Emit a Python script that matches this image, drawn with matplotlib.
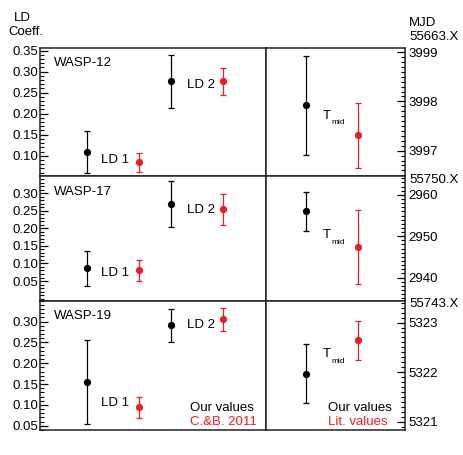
import matplotlib
matplotlib.use("Agg")
import matplotlib.pyplot as plt
from matplotlib.ticker import MultipleLocator

plt.rcParams["font.family"] = ["Liberation Sans", "DejaVu Sans"]
plt.rcParams["font.size"] = 9.5

RED = "#ee1c24"

planets = ["WASP-12", "WASP-17", "WASP-19"]
mjd_base = ["55663.X", "55750.X", "55743.X"]

# limb darkening: our values vs C.&B. 2011
ld1_ours = [0.109, 0.086, 0.155]
ld1_ours_err = [0.050, 0.050, 0.101]
ld1_cb = [0.084, 0.080, 0.094]
ld1_cb_err = [0.022, 0.030, 0.025]
ld2_ours = [0.277, 0.270, 0.291]
ld2_ours_err = [0.063, 0.065, 0.040]
ld2_cb = [0.277, 0.254, 0.305]
ld2_cb_err = [0.032, 0.045, 0.027]

# mid-transit times: our values vs literature
tmid_ours = [3997.92, 2956.0, 5321.97]
tmid_ours_err = [1.00, 4.7, 0.60]
tmid_lit = [3997.31, 2947.4, 5322.64]
tmid_lit_err = [0.66, 8.9, 0.40]

ld_ticks = [
    [0.10, 0.15, 0.20, 0.25, 0.30, 0.35],
    [0.05, 0.10, 0.15, 0.20, 0.25, 0.30],
    [0.05, 0.10, 0.15, 0.20, 0.25, 0.30],
]
ld_ylims = [(0.051, 0.357), (-0.006, 0.348), (0.039, 0.350)]
t_ticks = [[3997, 3998, 3999], [2940, 2950, 2960], [5321, 5322, 5323]]
t_ylims = [(3996.48, 3999.09), (2934.4, 2964.5), (5320.83, 5323.44)]
t_minor = [0.1, 1.0, 0.1]

# label heights (data units) next to the LD pairs
ld1_label_y = [0.089, 0.074, 0.105]
ld2_label_y = [0.268, 0.253, 0.292]
tmid_label_y = [0.446, 0.502, 0.566]

W, H = 463, 455
rows = [(47.7, 176.3), (176.3, 300.7), (300.7, 430.3)]
x0, xmid, x1 = 40, 265.7, 405

fig = plt.figure(figsize=(W / 100, H / 100), dpi=100)

off = 0.31
eb = dict(fmt="o", ms=4.2, elinewidth=0.9, capsize=2.0, capthick=0.9)

for i, (top, bot) in enumerate(rows):
    b = (H - bot) / H
    h = (bot - top) / H
    axl = fig.add_axes([x0 / W, b, (xmid - x0) / W, h])
    axr = fig.add_axes([xmid / W, b, (x1 - xmid) / W, h])

    axl.errorbar([1 - off], [ld1_ours[i]], yerr=[ld1_ours_err[i]], color="black", **eb)
    axl.errorbar([1 + off], [ld1_cb[i]], yerr=[ld1_cb_err[i]], color=RED, **eb)
    axl.errorbar([2 - off], [ld2_ours[i]], yerr=[ld2_ours_err[i]], color="black", **eb)
    axl.errorbar([2 + off], [ld2_cb[i]], yerr=[ld2_cb_err[i]], color=RED, **eb)
    axl.text(1.03, ld1_label_y[i], "LD 1", ha="center", va="center")
    axl.text(2.04, ld2_label_y[i], "LD 2", ha="center", va="center")
    axl.text(0.062, [0.860, 0.850, 0.859][i], planets[i], transform=axl.transAxes,
             va="baseline")
    axl.set_xlim(0.134, 2.811)
    axl.set_ylim(*ld_ylims[i])
    axl.set_yticks(ld_ticks[i])
    axl.set_yticklabels([f"{v:.2f}" for v in ld_ticks[i]])
    axl.yaxis.set_minor_locator(MultipleLocator(0.01))
    axl.set_xticks([])
    axl.tick_params(axis="y", which="major", direction="in", length=5.5, width=0.9, pad=1)
    axl.tick_params(axis="y", which="minor", direction="in", length=3, width=0.8)

    axr.errorbar([0.292], [tmid_ours[i]], yerr=[tmid_ours_err[i]], color="black", **eb)
    axr.errorbar([0.663], [tmid_lit[i]], yerr=[tmid_lit_err[i]], color=RED, **eb)
    axr.text(0.412, tmid_label_y[i], "T", transform=axr.transAxes, va="baseline")
    axr.annotate("mid", (0.412, tmid_label_y[i]), xycoords="axes fraction",
                 xytext=(6, -4), textcoords="offset points", fontsize=6,
                 va="baseline")
    axr.set_xlim(0, 1)
    axr.set_ylim(*t_ylims[i])
    axr.yaxis.tick_right()
    axr.set_yticks(t_ticks[i])
    axr.set_yticklabels([str(v) for v in t_ticks[i]])
    axr.yaxis.set_minor_locator(MultipleLocator(t_minor[i]))
    axr.set_xticks([])
    axr.tick_params(axis="y", which="major", direction="in", length=5.5, width=0.9, pad=2.5)
    axr.tick_params(axis="y", which="minor", direction="in", length=3, width=0.8)

    for ax in (axl, axr):
        for sp in ax.spines.values():
            sp.set_linewidth(1.1)
            sp.set_color("#222222")

    if i == 2:
        axl.text(0.665, 0.151, "Our values", transform=axl.transAxes, va="baseline")
        axl.text(0.665, 0.041, "C.&B. 2011", transform=axl.transAxes, va="baseline",
                 color=RED)
        axr.text(0.444, 0.151, "Our values", transform=axr.transAxes, va="baseline")
        axr.text(0.444, 0.041, "Lit. values", transform=axr.transAxes, va="baseline",
                 color=RED)

fig.text(22 / W, 1 - 18 / H, "LD", ha="center", va="center")
fig.text(25.7 / W, 1 - 31.7 / H, "Coeff.", ha="center", va="center")
fig.text(409 / W, 1 - 23 / H, "MJD", ha="left", va="center")
for lab, yc in zip(mjd_base, [36.7, 180, 304]):
    fig.text(409 / W, 1 - yc / H, lab, ha="left", va="center")

fig.savefig("out.png", dpi=100)
